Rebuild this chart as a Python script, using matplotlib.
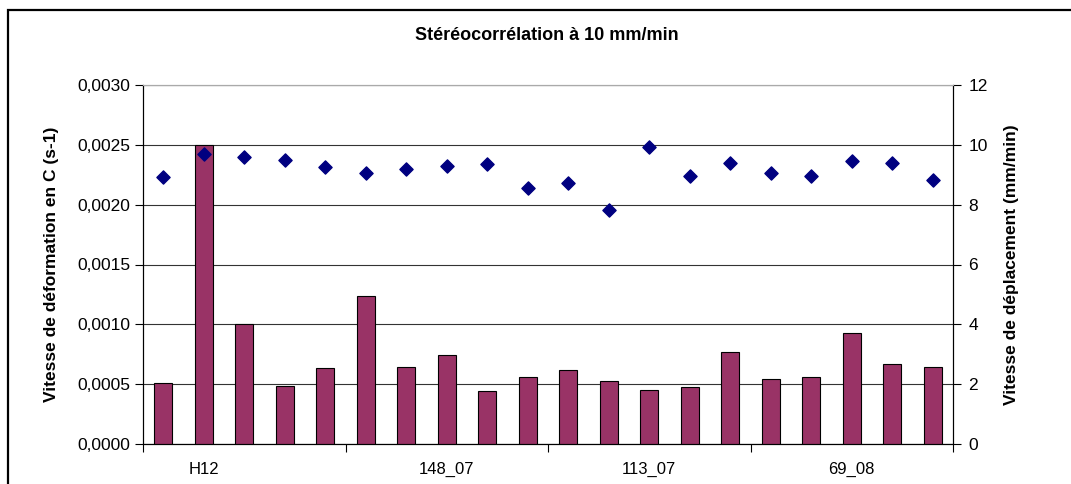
import matplotlib
matplotlib.use("Agg")
import matplotlib.pyplot as plt
from matplotlib.ticker import FixedLocator, FuncFormatter
from matplotlib.patches import Rectangle

plt.rcParams['font.family'] = ['Liberation Sans', 'DejaVu Sans']

title = "Stéréocorrélation à 10 mm/min"
ylabel_left = "Vitesse de déformation en C (s-1)"
ylabel_right = "Vitesse de déplacement (mm/min)"

deformation = [0.000512, 0.00250, 0.00100, 0.000487, 0.000635, 0.00124, 0.000646,
               0.000744, 0.000440, 0.000560, 0.000618, 0.000524, 0.000449, 0.000474,
               0.000766, 0.000546, 0.000560, 0.000925, 0.000669, 0.000646]
deplacement = [8.91, 9.69, 9.59, 9.49, 9.25, 9.05, 9.20, 9.30, 9.35, 8.57,
               8.71, 7.83, 9.94, 8.96, 9.40, 9.05, 8.96, 9.45, 9.40, 8.81]
label_positions = [1, 7, 12, 17]
tick_labels = ["H12", "148_07", "113_07", "69_08"]
left_ticks = [0.0, 0.0005, 0.0010, 0.0015, 0.0020, 0.0025, 0.0030]
right_ticks = [0, 2, 4, 6, 8, 10, 12]

W, H = 1071, 484
fig = plt.figure(figsize=(W / 100, H / 100), dpi=100)
fig.patches.append(Rectangle((8 / W, -0.1), 1.2, 1.1 - 10 / H, transform=fig.transFigure,
                             fill=False, edgecolor='black', linewidth=1.6))
ax = fig.add_axes([143 / W, 40 / H, 810 / W, 359 / H])
x = list(range(len(deformation)))
ax.bar(x, deformation, width=0.45, color='#993366', edgecolor='black', linewidth=0.8, zorder=3)
ax.set_xlim(-0.5, len(deformation) - 0.5)
ax.set_ylim(0, 0.003)
ax.yaxis.set_major_locator(FixedLocator(left_ticks))
ax.yaxis.set_major_formatter(FuncFormatter(lambda v, p: f"{v:.4f}".replace('.', ',')))
ax.grid(axis='y', color='#333333', linewidth=0.8, zorder=0)
ax.set_xticks(label_positions)
ax.set_xticklabels(tick_labels)
ax.tick_params(axis='x', length=0, pad=13, labelsize=12)
ax.set_xticks([-0.5, 4.5, 9.5, 14.5, 19.5], minor=True)
ax.tick_params(axis='x', which='minor', length=6, direction='out', width=0.8)
ax.tick_params(axis='y', length=6, direction='out', labelsize=12.5, width=0.8, pad=3)
ax.spines['top'].set_color('#aaaaaa')
ax.set_ylabel(ylabel_left, fontsize=12.5, fontweight='bold', labelpad=13)

ax2 = ax.twinx()
ax2.scatter(x, deplacement, marker='D', s=45, color='#000080', zorder=4)
ax2.set_ylim(0, 12)
ax2.yaxis.set_major_locator(FixedLocator(right_ticks))
ax2.tick_params(axis='y', length=6, direction='out', labelsize=12.5, width=0.8, pad=5)
ax2.set_ylabel(ylabel_right, fontsize=12.5, fontweight='bold', labelpad=12)
ax2.spines['top'].set_color('#aaaaaa')

fig.text(547 / W, 1 - 36 / H, title, ha='center', va='center', fontsize=13, fontweight='bold')

fig.savefig("out.png", dpi=100)
